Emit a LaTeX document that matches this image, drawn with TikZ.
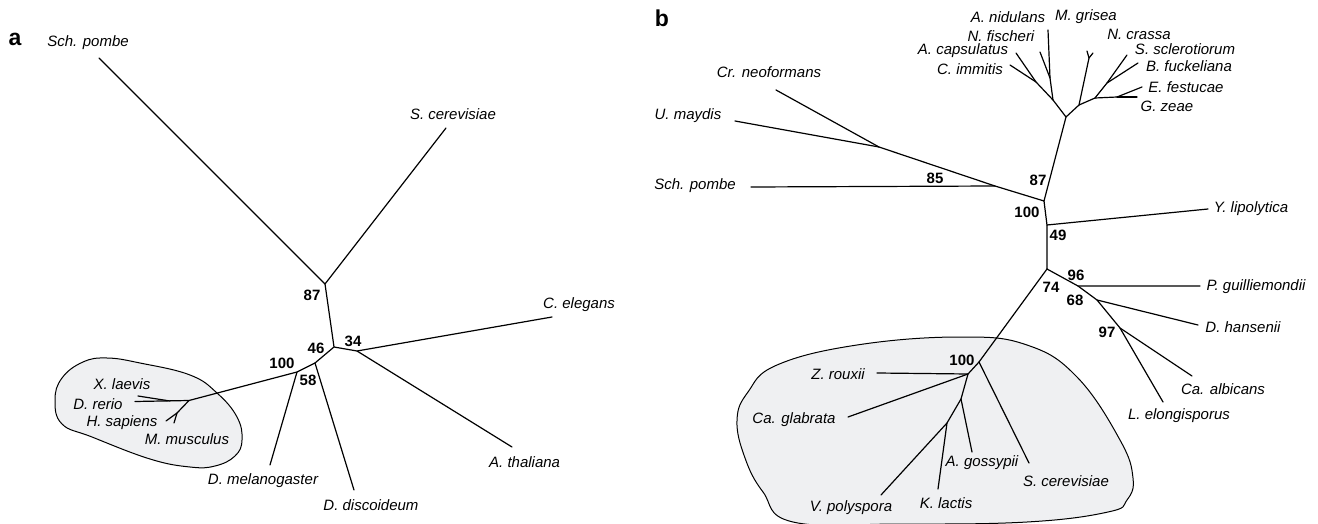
\documentclass[tikz,border=0pt]{standalone}
\usepackage{fontspec}
\setmainfont{Liberation Sans}
\definecolor{bubgray}{RGB}{239,240,242}
\begin{document}
\begin{tikzpicture}[x=1pt,y=-1pt,
  br/.style={line width=1.2pt, line cap=round, line join=round},
  sp/.style={font=\fontsize{15}{15}\selectfont\itshape, inner sep=0pt},
  bs/.style={font=\fontsize{15}{15}\selectfont\bfseries, inner sep=0pt},
  pl/.style={font=\fontsize{23}{23}\selectfont\bfseries, inner sep=0pt},
  bub/.style={draw=black, line width=1pt, fill=bubgray}]
\useasboundingbox (0,0) rectangle (1318,524);
% ---------------- panel a ----------------
\draw[bub] plot[smooth cycle, tension=0.7] coordinates {(55,400) (62,378) (83,362) (107,358) (140,363) (190,375) (217,393) (237,417) (242,440) (235,456) (215,466) (190,467) (150,459) (92,437) (62,424)};
\node[pl] (la) at (15,39) {a};
\coordinate (aJ87) at (325,284);
\coordinate (aJ34) at (334,347);
\coordinate (aJCA) at (357,351);
\coordinate (aJ46) at (315,363);
\coordinate (aJ100) at (297,372);
\coordinate (aJV) at (189,400.5);
\coordinate (aJX) at (170,401);
\coordinate (aJH) at (177,413);
\coordinate (eSch) at (99,58);
\coordinate (eScer) at (446,128);
\coordinate (eCel) at (552,317);
\coordinate (eAth) at (512,447);
\coordinate (eDdis) at (354,490);
\coordinate (eDmel) at (270,465);
\coordinate (eXl) at (138,396);
\coordinate (eDr) at (135,401.5);
\coordinate (eHs) at (166,421);
\coordinate (eMm) at (174,423);
\draw[br] (eSch) -- (aJ87) -- (eScer);
\draw[br] (aJ87) -- (aJ34) -- (aJCA) -- (eCel);
\draw[br] (aJCA) -- (eAth);
\draw[br] (aJ34) -- (aJ46) -- (aJ100) -- (aJV) -- (eDr);
\draw[br] (aJ46) -- (eDdis);
\draw[br] (aJ100) -- (eDmel);
\draw[br] (aJX) -- (eXl);
\draw[br] (aJV) -- (aJH) -- (eHs);
\draw[br] (aJH) -- (eMm);
\node[sp] (tSch) at (88,43) {Sch. pombe};
\node[sp] (tScer) at (453,114) {S. cerevisiae};
\node[sp, anchor=west] (tCel) at (543,305) {C. elegans};
\node[sp, anchor=west] (tAth) at (489,462) {A. thaliana};
\node[sp] (tDmel) at (263,481) {D. melanogaster};
\node[sp] (tDdis) at (371,505) {D. discoideum};
\node[sp] (tXl) at (122,384) {X. laevis};
\node[sp] (tDr) at (98,404) {D. rerio};
\node[sp] (tHs) at (122,423) {H. sapiens};
\node[sp] (tMm) at (187,439) {M. musculus};
\node[bs] (n87a) at (312,295) {87};
\node[bs] (n34a) at (353,341) {34};
\node[bs] (n46a) at (316,348) {46};
\node[bs] (n100a) at (282,363) {100};
\node[bs] (n58a) at (308,380) {58};
% ---------------- panel b ----------------
\draw[bub] plot[smooth cycle, tension=0.7] coordinates {(737,420) (748,392) (777,365) (857,345) (960,337) (1027,345) (1077,377) (1120,440) (1133,478) (1127,500) (1108,512) (1027,522) (900,524) (793,522) (763,492) (745,458)};
\node[pl] (lb) at (662,18) {b};
\coordinate (bJU) at (879,147);
\coordinate (bJ85) at (995,186);
\coordinate (bJ100) at (1044,201);
\coordinate (bJF) at (1066,117);
\coordinate (bJY) at (1047,225);
\coordinate (bJ74) at (1047,269);
\coordinate (bJ96) at (1078,286);
\coordinate (bJ68) at (1097,300);
\coordinate (bJ97) at (1120,328);
\coordinate (bJS) at (979,362);
\coordinate (bJZ) at (968,374);
\coordinate (bJ2) at (961,399);
\coordinate (bJ3) at (947,423);
\coordinate (bJL1) at (1053,100);
\coordinate (bJLa) at (1050,78);
\coordinate (bJLb) at (1036,82);
\coordinate (bJR1) at (1079,105);
\coordinate (bJRf) at (1089,58);
\coordinate (bJR2) at (1095,98);
\coordinate (bJR3) at (1107,83);
\coordinate (bJR4) at (1117,97);
\coordinate (fCr) at (776,90);
\coordinate (fU) at (735,121);
\coordinate (fSch) at (751,187);
\coordinate (fY) at (1208,209);
\coordinate (fP) at (1200,286);
\coordinate (fDh) at (1198,325);
\coordinate (fCa) at (1192,376);
\coordinate (fLe) at (1163,402);
\coordinate (fSc) at (1029,463);
\coordinate (fAg) at (972,452);
\coordinate (fKl) at (938,489);
\coordinate (fVp) at (881,495);
\coordinate (fZr) at (877,373);
\coordinate (fCg) at (848,417);
\coordinate (fAn) at (1048,30);
\coordinate (fNf) at (1040,52);
\coordinate (fAc) at (1016,53);
\coordinate (fCi) at (1010,65);
\coordinate (fMg) at (1087,51);
\coordinate (fNc) at (1093,53);
\coordinate (fSs) at (1127,55);
\coordinate (fBf) at (1138,63);
\coordinate (fEf) at (1142,87);
\coordinate (fGz) at (1137,97);
\draw[br] (fCr) -- (bJU) -- (bJ85) -- (bJ100);
\draw[br] (fU) -- (bJU);
\draw[br] (fSch) -- (bJ85);
\draw[br] (bJ100) -- (bJF);
\draw[br] (bJ100) -- (bJY) -- (bJ74);
\draw[br] (bJY) -- (fY);
\draw[br] (bJ74) -- (bJ96) -- (fP);
\draw[br] (bJ96) -- (bJ68) -- (fDh);
\draw[br] (bJ68) -- (bJ97) -- (fCa);
\draw[br] (bJ97) -- (fLe);
\draw[br] (bJ74) -- (bJS) -- (bJZ) -- (fZr);
\draw[br] (bJS) -- (fSc);
\draw[br] (bJZ) -- (fCg);
\draw[br] (bJZ) -- (bJ2) -- (fAg);
\draw[br] (bJ2) -- (bJ3) -- (fKl);
\draw[br] (bJ3) -- (fVp);
\draw[br] (bJF) -- (bJL1) -- (bJLa) -- (fAn);
\draw[br] (bJLa) -- (fNf);
\draw[br] (bJL1) -- (bJLb) -- (fAc);
\draw[br] (bJLb) -- (fCi);
\draw[br] (bJF) -- (bJR1) -- (bJRf) -- (fMg);
\draw[br] (bJRf) -- (fNc);
\draw[br] (bJR1) -- (bJR2) -- (bJR3) -- (fSs);
\draw[br] (bJR3) -- (fBf);
\draw[br] (bJR2) -- (bJR4) -- (fEf);
\draw[br] (bJR4) -- (fGz);
\node[sp] (uCr) at (769,72) {Cr. neoformans};
\node[sp] (uU) at (688,116) {U. maydis};
\node[sp] (uSch) at (695,186) {Sch. pombe};
\node[sp] (uY) at (1251,209) {Y. lipolytica};
\node[sp] (uP) at (1256,287) {P. guilliemondii};
\node[sp] (uDh) at (1243,327) {D. hansenii};
\node[sp] (uCa) at (1223,389) {Ca. albicans};
\node[sp] (uLe) at (1179,416) {L. elongisporus};
\node[sp] (uZr) at (838,374) {Z. rouxii};
\node[sp] (uCg) at (794,420) {Ca. glabrata};
\node[sp] (uAg) at (982,463) {A. gossypii};
\node[sp] (uSc) at (1066,481) {S. cerevisiae};
\node[sp] (uKl) at (946,503) {K. lactis};
\node[sp] (uVp) at (851,508) {V. polyspora};
\node[sp] (uAn) at (1008,17) {A. nidulans};
\node[sp] (uMg) at (1086,17) {M. grisea};
\node[sp] (uNf) at (1001,36) {N. fischeri};
\node[sp] (uAc) at (963,51) {A. capsulatus};
\node[sp] (uCi) at (970,69) {C. immitis};
\node[sp] (uNc) at (1139,34) {N. crassa};
\node[sp] (uSs) at (1185,49) {S. sclerotiorum};
\node[sp] (uBf) at (1189,66) {B. fuckeliana};
\node[sp] (uEf) at (1186,87) {E. festucae};
\node[sp] (uGz) at (1167,106) {G. zeae};
\node[bs] (m85) at (935,178) {85};
\node[bs] (m87) at (1038,180) {87};
\node[bs] (m100) at (1027,212) {100};
\node[bs] (m49) at (1058,235) {49};
\node[bs] (m96) at (1076,275) {96};
\node[bs] (m74) at (1051,287) {74};
\node[bs] (m68) at (1075,300) {68};
\node[bs] (m97) at (1107,332) {97};
\node[bs] (m100b) at (962,360) {100};
\end{tikzpicture}
\end{document}
